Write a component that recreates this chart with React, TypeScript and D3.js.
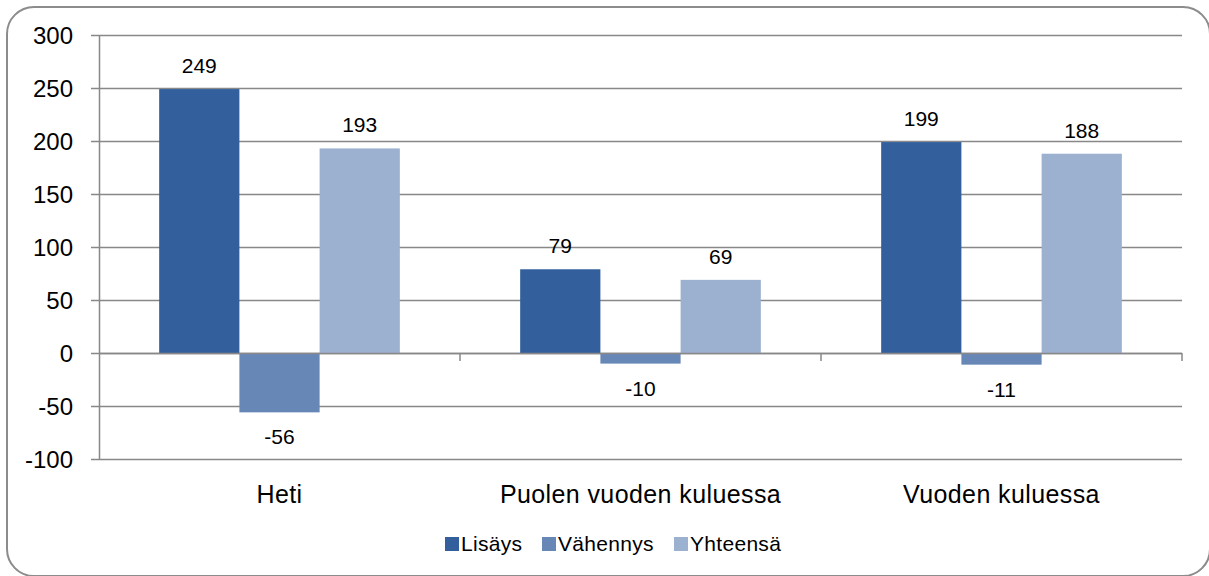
import { useEffect, useRef } from "react";
import * as d3 from "d3";

const categories = ["Heti", "Puolen vuoden kuluessa", "Vuoden kuluessa"];
const seriesNames = ["Lisäys", "Vähennys", "Yhteensä"];
const lisays = [249, 79, 199];
const vahennys = [-56, -10, -11];
const yhteensa = [193, 69, 188];
const yTicks = [-100, -50, 0, 50, 100, 150, 200, 250, 300];
const colors = ["#33609c", "#6788b7", "#9cb1d0"];

export default function App() {
  const svgRef = useRef<SVGSVGElement>(null);

  useEffect(() => {
    document.body.style.margin = "0";
    const width = 1209;
    const height = 576;
    const left = 99;
    const right = 1182;
    const top = 35;
    const bottom = 459;
    const font = "Liberation Sans, Arial, sans-serif";

    const svg = d3.select(svgRef.current)
      .attr("width", width)
      .attr("height", height)
      .style("display", "block")
      .style("font-family", font);

    svg.selectAll("*").remove();

    svg.append("rect")
      .attr("x", 7).attr("y", 7)
      .attr("width", 1203).attr("height", 569)
      .attr("rx", 27).attr("ry", 27)
      .attr("fill", "white")
      .attr("stroke", "#8c8c8c")
      .attr("stroke-width", 2);

    const y = d3.scaleLinear().domain([-100, 300]).range([bottom, top]);
    const x0 = d3.scaleBand().domain(categories).range([left, right]);
    const x1 = d3.scaleBand().domain(seriesNames)
      .range([0, x0.bandwidth()]).paddingOuter(0.75).paddingInner(0);

    const series = [lisays, vahennys, yhteensa];

    // gridlines
    svg.append("g")
      .selectAll("line")
      .data(yTicks)
      .join("line")
      .attr("x1", left - 8)
      .attr("x2", right)
      .attr("y1", (d) => Math.round(y(d)) + 0.5)
      .attr("y2", (d) => Math.round(y(d)) + 0.5)
      .attr("stroke", "#888")
      .attr("stroke-width", 1.5);

    svg.append("g")
      .selectAll("text")
      .data(yTicks)
      .join("text")
      .attr("x", 73)
      .attr("y", (d) => y(d))
      .attr("dy", "0.36em")
      .attr("text-anchor", "end")
      .attr("font-size", 24)
      .attr("fill", "#000")
      .text((d) => d);

    // bars
    const g = svg.append("g");
    series.forEach((vals, si) => {
      g.selectAll(null)
        .data(vals)
        .join("rect")
        .attr("x", (_d, i) => x0(categories[i])! + x1(seriesNames[si])!)
        .attr("width", x1.bandwidth())
        .attr("y", (d) => y(Math.max(0, d)))
        .attr("height", (d) => Math.abs(y(d) - y(0)))
        .attr("fill", colors[si]);

      g.selectAll(null)
        .data(vals)
        .join("text")
        .attr("x", (_d, i) => x0(categories[i])! + x1(seriesNames[si])! + x1.bandwidth() / 2)
        .attr("y", (d) => (d >= 0 ? y(d) - 16 : y(d) + 32))
        .attr("text-anchor", "middle")
        .attr("font-size", 21)
        .attr("fill", "#000")
        .text((d) => d);
    });

    // axes lines
    svg.append("line")
      .attr("x1", left + 0.5).attr("x2", left + 0.5)
      .attr("y1", top).attr("y2", bottom)
      .attr("stroke", "#888").attr("stroke-width", 1.5);

    svg.append("line")
      .attr("x1", left).attr("x2", right)
      .attr("y1", Math.round(y(0)) + 0.5).attr("y2", Math.round(y(0)) + 0.5)
      .attr("stroke", "#888").attr("stroke-width", 1.5);

    svg.append("g")
      .selectAll("line")
      .data(categories)
      .join("line")
      .attr("x1", (d) => x0(d)! + x0.bandwidth())
      .attr("x2", (d) => x0(d)! + x0.bandwidth())
      .attr("y1", y(0))
      .attr("y2", y(0) + 8)
      .attr("stroke", "#888").attr("stroke-width", 1.5);

    svg.append("g")
      .selectAll("text")
      .data(categories)
      .join("text")
      .attr("x", (d) => x0(d)! + x0.bandwidth() / 2)
      .attr("y", 503)
      .attr("text-anchor", "middle")
      .attr("font-size", 25)
      .attr("letter-spacing", 0.4)
      .attr("fill", "#000")
      .text((d) => d);

    // legend
    const legendX = [445, 542, 674];
    const legend = svg.append("g")
      .selectAll("g")
      .data(seriesNames)
      .join("g")
      .attr("transform", (_d, i) => `translate(${legendX[i]},537)`);
    legend.append("rect")
      .attr("width", 14).attr("height", 14)
      .attr("fill", (_d, i) => colors[i]);
    legend.append("text")
      .attr("x", 16).attr("y", 13.5)
      .attr("font-size", 21)
      .attr("letter-spacing", 0.3)
      .attr("fill", "#000")
      .text((d) => d);
  }, []);

  return <svg ref={svgRef}></svg>;
}
